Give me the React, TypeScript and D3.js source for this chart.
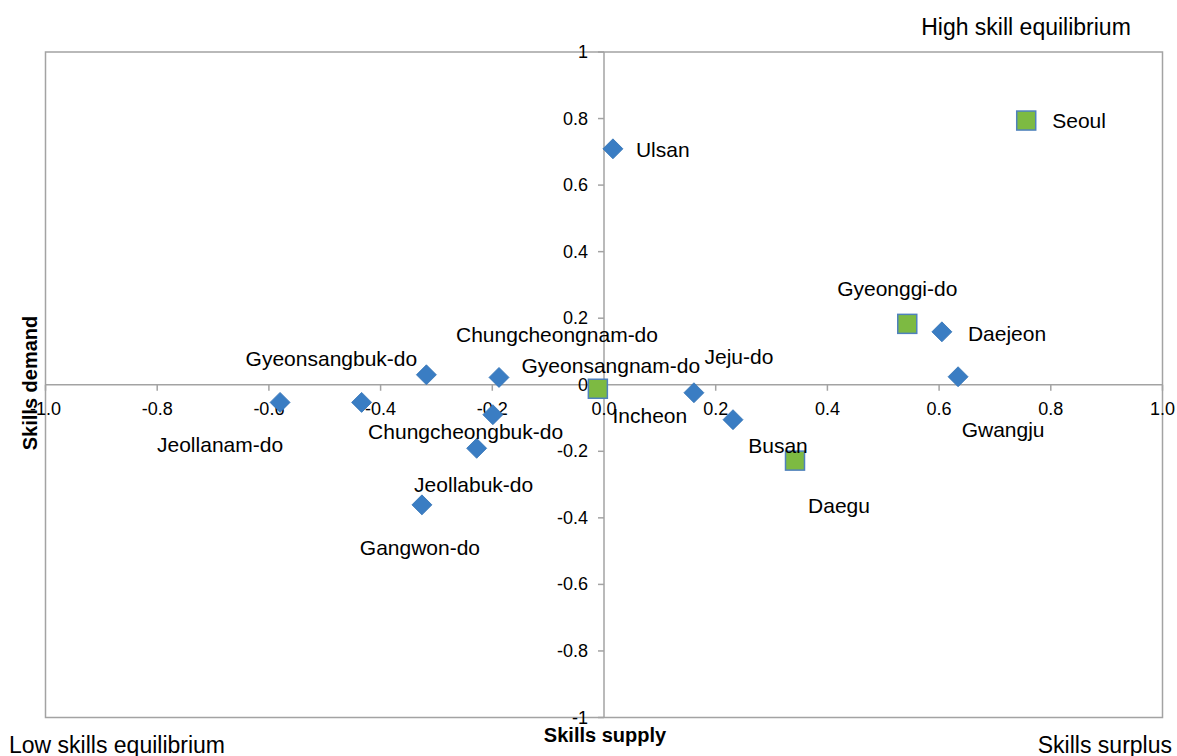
import React from "react";
import * as d3 from "d3";

const regions = [
  "Seoul", "Ulsan", "Gyeonggi-do", "Daejeon", "Gwangju", "Jeju-do", "Busan", "Daegu",
  "Incheon", "Chungcheongnam-do", "Gyeonsangbuk-do", "Chungcheongbuk-do", "Jeollanam-do",
  "Gyeonsangnam-do", "Jeollabuk-do", "Gangwon-do",
];
const supply = [0.756, 0.016, 0.543, 0.605, 0.634, 0.161, 0.231, 0.342, -0.011, -0.188, -0.318, -0.434, -0.58, -0.199, -0.228, -0.326];
const demand = [0.794, 0.709, 0.183, 0.159, 0.024, -0.024, -0.105, -0.228, -0.012, 0.022, 0.03, -0.053, -0.053, -0.09, -0.191, -0.361];
const markerKind = ["square", "diamond", "square", "diamond", "diamond", "diamond", "diamond", "square", "square", "diamond", "diamond", "diamond", "diamond", "diamond", "diamond", "diamond"];
// label placement offsets (px) and anchors
const labelDx = [26, 23, -10, 26, 45, 45, 45, 44, 52, 58, -95, 104, -60, 118, -3, -2];
const labelDy = [0, 1, -35, 2, 53, -36, 26, 45, 27, -43, -16, 29, 42, -49, 36, 43];
const labelAnchor = ["start", "start", "middle", "start", "middle", "middle", "middle", "middle", "middle", "middle", "middle", "middle", "middle", "middle", "middle", "middle"];

const xTicks = [-1, -0.8, -0.6, -0.4, -0.2, 0, 0.2, 0.4, 0.6, 0.8, 1];
const yTicks = [-1, -0.8, -0.6, -0.4, -0.2, 0, 0.2, 0.4, 0.6, 0.8, 1];

const W = 1177;
const H = 756;
const FONT = "'Liberation Sans', Arial, sans-serif";

export default function App() {
  const x = d3.scaleLinear().domain([-1, 1]).range([45.5, 1162.5]);
  const y = d3.scaleLinear().domain([-1, 1]).range([717.5, 52]);
  const grid = "#a3a3a3";
  const x0 = x(0);
  const y0 = y(0);
  const yFmt = (v: number) => (v === 0 ? "0" : String(+v.toFixed(1)));

  return (
    <svg width={W} height={H} style={{ position: "absolute", left: 0, top: 0, background: "#fff" }} fontFamily={FONT}>
      <rect x={x(-1)} y={y(1)} width={x(1) - x(-1)} height={y(-1) - y(1)} fill="none" stroke={grid} strokeWidth={1.5} />
      <line x1={x(-1)} x2={x(1)} y1={y0} y2={y0} stroke={grid} strokeWidth={1.5} />
      <line x1={x0} x2={x0} y1={y(1)} y2={y(-1)} stroke={grid} strokeWidth={1.5} />
      {xTicks.map((t) => (
        <g key={"xt" + t}>
          <line x1={x(t)} x2={x(t)} y1={y0} y2={y0 + 6} stroke={grid} strokeWidth={1.5} />
          <text x={x(t)} y={y0 + 24} textAnchor="middle" dominantBaseline="central" fontSize={18} fill="#000">
            {t.toFixed(1)}
          </text>
        </g>
      ))}
      {yTicks.map((t) => (
        <g key={"yt" + t}>
          <line x1={x0 - 6} x2={x0} y1={y(t)} y2={y(t)} stroke={grid} strokeWidth={1.5} />
          <text x={x0 - 16} y={y(t)} textAnchor="end" dominantBaseline="central" fontSize={18} fill="#000">
            {yFmt(t)}
          </text>
        </g>
      ))}
      {regions.map((r, i) => {
        const cx = x(supply[i]);
        const cy = y(demand[i]);
        return markerKind[i] === "square" ? (
          <rect key={"m" + r} x={cx - 9.5} y={cy - 9.5} width={19} height={19} fill="#7dba42" stroke="#4f81bd" strokeWidth={1.5} />
        ) : (
          <path key={"m" + r} d={`M${cx},${cy - 10}L${cx + 10},${cy}L${cx},${cy + 10}L${cx - 10},${cy}Z`} fill="#3a7dc3" stroke="#3272b5" strokeWidth={0.8} />
        );
      })}
      {regions.map((r, i) => (
        <text
          key={"l" + r}
          x={x(supply[i]) + labelDx[i]}
          y={y(demand[i]) + labelDy[i]}
          textAnchor={labelAnchor[i] as any}
          dominantBaseline="central"
          fontSize={21}
          fill="#000"
        >
          {r}
        </text>
      ))}
      <text x={1026} y={27} textAnchor="middle" dominantBaseline="central" fontSize={23} fill="#000">High skill equilibrium</text>
      <text x={9} y={745} textAnchor="start" dominantBaseline="central" fontSize={23} fill="#000">Low skills equilibrium</text>
      <text x={1172} y={745} textAnchor="end" dominantBaseline="central" fontSize={23} fill="#000">Skills surplus</text>
      <text x={605} y={735} textAnchor="middle" dominantBaseline="central" fontSize={20} fontWeight="bold" fill="#000">Skills supply</text>
      <text transform={`translate(30,383) rotate(-90)`} textAnchor="middle" dominantBaseline="central" fontSize={20} fontWeight="bold" fill="#000">Skills demand</text>
    </svg>
  );
}
